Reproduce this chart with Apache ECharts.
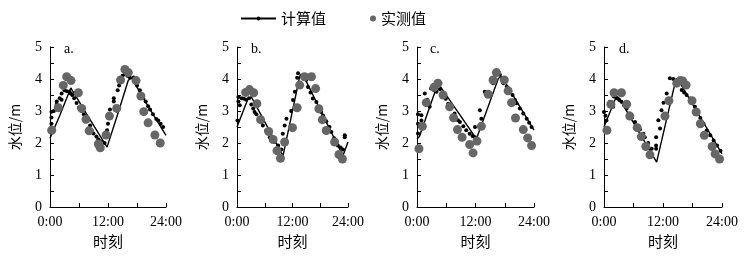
<!DOCTYPE html>
<html>
<head>
<meta charset="utf-8">
<script src="https://cdn.jsdelivr.net/npm/echarts@6/dist/echarts.min.js"></script>
<style>
html, body { margin: 0; padding: 0; background: #fff; }
#main { width: 753px; height: 263px; }
</style>
</head>
<body>
<div id="main"></div>
<script>
// 水位 计算值 / 实测值, 四个测站 a-d
var panelNames = ['a.', 'b.', 'c.', 'd.'];
var xTickLabels = ['0:00', '12:00', '24:00'];

// 计算值 (line)
var calcLineA = [[0,2.15],[2,2.85],[4.3,3.72],[8,2.8],[11.8,1.87],[14,2.9],[16.2,3.96],[16.9,4.03],[20.5,3.1],[24,2.24]];
var calcLineB = [[0,2.5],[2.4,3.39],[3.1,3.44],[9.95,1.6],[13.55,4.07],[14.3,4.12],[22.9,1.6],[24,2.03]];
var calcLineC = [[0,2.13],[0.5,2.2],[4.3,3.87],[12.2,2.13],[12.5,2.13],[16.7,4.02],[17.35,4.08],[24,2.4]];
var calcLineD = [[0,2.5],[2.5,3.45],[3.0,3.42],[10.7,1.4],[14.45,3.87],[15.1,3.97],[24,1.66]];

// 计算值 (dots)
var calcDotsA = [[0.3,2.98],[0.3,2.8],[0.3,2.6],[0.8,3.0],[1.4,3.3],[1.4,3.2],[2.0,3.4],[2.4,3.55],[2.4,3.35],[3.0,3.65],[3.5,3.62],[4.0,3.6],[4.3,3.55],[4.6,3.5],[5.0,3.4],[5.5,3.25],[6.0,3.1],[6.5,3.0],[7.0,2.9],[7.4,2.8],[7.8,2.7],[8.3,2.55],[8.6,2.4],[9.0,2.3],[9.6,2.2],[10.0,2.12],[10.5,2.05],[11.3,2.0],[11.8,2.4],[12.0,2.6],[12.1,2.8],[12.4,3.05],[13.2,3.4],[13.2,3.3],[14.0,3.65],[14.3,3.8],[14.6,3.95],[15.0,4.1],[15.5,4.15],[16.0,4.1],[16.5,4.05],[17.3,4.05],[18.0,3.8],[18.6,3.65],[19.3,3.4],[19.8,3.3],[20.3,3.15],[20.7,3.05],[21.3,2.9],[22.0,2.75],[22.4,2.7],[22.9,2.6],[23.4,2.5]];
var calcDotsB = [[0.1,2.7],[0.3,3.44],[0.3,3.3],[0.6,3.18],[1.0,3.4],[1.5,3.38],[2.0,3.35],[2.6,3.4],[3.1,3.2],[3.5,3.08],[3.8,2.97],[4.2,2.9],[4.8,2.78],[5.3,2.65],[5.6,2.55],[6.3,2.38],[7.1,2.18],[7.4,2.13],[8.1,2.03],[8.9,1.92],[9.6,1.8],[9.9,2.29],[10.3,2.55],[10.7,2.76],[11.7,3.0],[12.1,3.34],[12.5,3.6],[13.0,4.04],[13.2,4.18],[13.9,4.1],[14.5,4.05],[15.0,3.98],[15.35,3.75],[15.9,3.58],[16.4,3.39],[17.15,3.28],[17.7,3.1],[18.2,2.97],[18.6,2.86],[19.3,2.68],[20.0,2.5],[20.4,2.34],[21.0,2.15],[21.5,1.97],[21.8,1.92],[22.4,1.86],[22.9,1.8],[23.3,2.18],[23.3,2.24]];
var calcDotsC = [[0.2,2.9],[0.2,2.6],[0.2,2.3],[0.9,2.87],[0.9,2.7],[1.6,3.55],[2.1,3.35],[2.6,3.13],[2.9,3.7],[3.5,3.65],[4.0,3.6],[4.7,3.68],[5.35,3.5],[5.9,3.38],[6.4,3.23],[7.0,3.13],[7.7,2.92],[8.4,2.71],[8.8,2.66],[9.5,2.52],[10.1,2.4],[10.8,2.29],[11.4,2.22],[11.9,2.18],[11.9,2.5],[12.9,3.02],[13.2,2.76],[13.9,3.6],[14.4,3.55],[14.9,3.5],[15.15,3.97],[15.6,3.87],[16.3,4.2],[17.0,4.13],[17.7,3.87],[18.4,3.76],[19.1,3.66],[19.6,3.5],[20.1,3.34],[20.4,3.24],[21.1,3.08],[21.8,2.92],[22.5,2.76],[23.0,2.63],[23.5,2.5]];
var calcDotsD = [[0.0,2.97],[0.3,2.85],[0.5,2.7],[1.2,3.29],[1.85,3.13],[2.0,3.45],[2.6,3.4],[3.1,3.34],[3.55,3.29],[4.1,3.18],[4.6,3.08],[5.1,2.92],[5.7,2.8],[6.3,2.66],[6.6,2.55],[7.3,2.42],[8.0,2.29],[8.3,2.18],[9.0,2.0],[9.7,1.82],[10.6,2.18],[10.6,1.92],[10.6,1.82],[11.05,2.71],[11.4,2.45],[11.7,3.02],[12.1,3.26],[12.75,3.55],[13.4,4.02],[14.1,4.0],[14.8,3.97],[15.1,3.97],[15.8,3.66],[16.3,3.58],[16.8,3.5],[17.5,3.39],[18.0,3.26],[18.5,3.13],[18.9,2.97],[19.6,2.78],[20.25,2.6],[20.9,2.39],[21.6,2.24],[22.3,2.08],[23.0,1.92],[23.7,1.76]];

// 实测值
var obsA = [[0.35,2.4],[1.7,3.1],[2.75,3.8],[3.45,4.07],[4.35,3.95],[5.86,3.57],[6.55,3.08],[7.45,2.74],[8.1,2.38],[10.0,1.97],[10.4,1.85],[11.6,2.25],[12.3,2.84],[13.8,3.08],[14.6,3.97],[15.5,4.3],[16.2,4.2],[17.8,3.95],[18.8,3.47],[19.4,2.98],[20.3,2.63],[21.7,2.25],[22.8,2.0]];
var obsB = [[1.87,3.58],[2.7,3.67],[3.6,3.57],[4.3,3.23],[5.1,2.73],[6.85,2.36],[7.8,2.11],[8.65,1.76],[9.4,1.52],[10.3,2.03],[12.0,2.48],[13.0,3.1],[13.55,3.81],[14.6,4.07],[16.1,4.07],[17.0,3.7],[17.7,3.07],[18.45,2.73],[19.3,2.39],[21.1,2.03],[22.05,1.64],[22.8,1.5]];
var obsC = [[0.4,1.82],[1.1,2.52],[1.9,3.26],[3.5,3.74],[4.3,3.87],[5.35,3.5],[6.7,3.13],[7.5,2.79],[8.3,2.42],[9.25,2.18],[10.8,1.95],[11.5,1.69],[12.3,2.06],[13.2,2.52],[14.6,3.52],[15.6,3.97],[16.3,4.2],[17.9,3.97],[18.7,3.63],[19.4,3.26],[20.2,2.78],[21.8,2.42],[22.7,2.16],[23.5,1.92]];
var obsD = [[0.6,2.4],[1.4,3.21],[2.05,3.57],[3.55,3.57],[4.6,3.21],[5.25,2.84],[6.75,2.48],[7.6,2.2],[8.5,1.89],[9.35,1.63],[12.4,2.84],[13.2,3.32],[14.8,3.87],[15.5,3.95],[16.0,3.94],[16.7,3.81],[17.9,3.32],[18.75,2.97],[19.6,2.6],[20.4,2.24],[22.0,1.89],[22.6,1.66],[23.5,1.5]];

var calcLines = [calcLineA, calcLineB, calcLineC, calcLineD];
var calcDots = [calcDotsA, calcDotsB, calcDotsC, calcDotsD];
var obsAll = [obsA, obsB, obsC, obsD];

var gridLeft = [50, 237, 417, 604];
var gridWidth = [116, 111, 117, 118];
var letterLeft = [64, 251, 430, 619];

var numFont = 'Liberation Serif';
var cjkFont = 'Noto Sans CJK SC';

var dom = document.getElementById('main');
var myChart = echarts.init(dom);

var grids = [], xAxes = [], yAxes = [], series = [], graphics = [];
for (var i = 0; i < 4; i++) {
    grids.push({ left: gridLeft[i], width: gridWidth[i], top: 47, height: 160 });
    xAxes.push({
        type: 'value', gridIndex: i, min: 0, max: 24, interval: 6,
        name: '时刻', nameLocation: 'middle', nameGap: 25,
        nameTextStyle: { fontFamily: cjkFont, fontSize: 15, color: '#000' },
        axisLine: { lineStyle: { color: '#000', width: 1 } },
        axisTick: { inside: true, length: 4, lineStyle: { color: '#000' } },
        axisLabel: {
            margin: 8, color: '#000', fontFamily: numFont, fontSize: 14,
            formatter: function (v) { return v % 12 === 0 ? xTickLabels[v / 12] : ''; }
        },
        splitLine: { show: false }
    });
    yAxes.push({
        type: 'value', gridIndex: i, min: 0, max: 5, interval: 0.5,
        name: '水位/m', nameLocation: 'middle', nameGap: 28,
        nameTextStyle: { fontFamily: cjkFont, fontSize: 14, color: '#000' },
        axisLine: { show: true, lineStyle: { color: '#000', width: 1 } },
        axisTick: { show: true, inside: true, length: 4, lineStyle: { color: '#000' } },
        axisLabel: {
            margin: 8, color: '#000', fontFamily: numFont, fontSize: 14,
            formatter: function (v) { return v % 1 === 0 ? String(v) : ''; }
        },
        splitLine: { show: false }
    });
    series.push({
        name: '计算值', type: 'line', xAxisIndex: i, yAxisIndex: i,
        data: calcLines[i], showSymbol: false, symbol: 'circle',
        lineStyle: { color: '#000', width: 1.4 }, itemStyle: { color: '#000' },
        silent: true, z: 2
    });
    series.push({
        name: '计算值', type: 'scatter', xAxisIndex: i, yAxisIndex: i,
        data: calcDots[i], symbolSize: 4, itemStyle: { color: '#000', opacity: 1 },
        silent: true, z: 3
    });
    series.push({
        name: '实测值', type: 'scatter', xAxisIndex: i, yAxisIndex: i,
        data: obsAll[i], symbolSize: 9, itemStyle: { color: '#666', opacity: 1 },
        silent: true, z: 4
    });
    graphics.push({
        type: 'text', left: letterLeft[i], top: 42,
        style: { text: panelNames[i], font: '14px "' + numFont + '"', fill: '#000' }
    });
}

var option = {
    backgroundColor: '#fff',
    animation: false,
    legend: [
        {
            data: ['计算值'], left: 240, top: 11, padding: 0, itemWidth: 35, itemHeight: 5, itemGap: 0,
            textStyle: { fontFamily: cjkFont, fontSize: 15, color: '#000' }
        },
        {
            data: [{ name: '实测值', icon: 'circle' }], left: 370, top: 11, padding: 0, itemWidth: 6, itemHeight: 6,
            textStyle: { fontFamily: cjkFont, fontSize: 15, color: '#000' }
        }
    ],
    grid: grids,
    xAxis: xAxes,
    yAxis: yAxes,
    series: series,
    graphic: graphics
};

if (option && typeof option === 'object') {
    myChart.setOption(option, true);
}
</script>
</body>
</html>
